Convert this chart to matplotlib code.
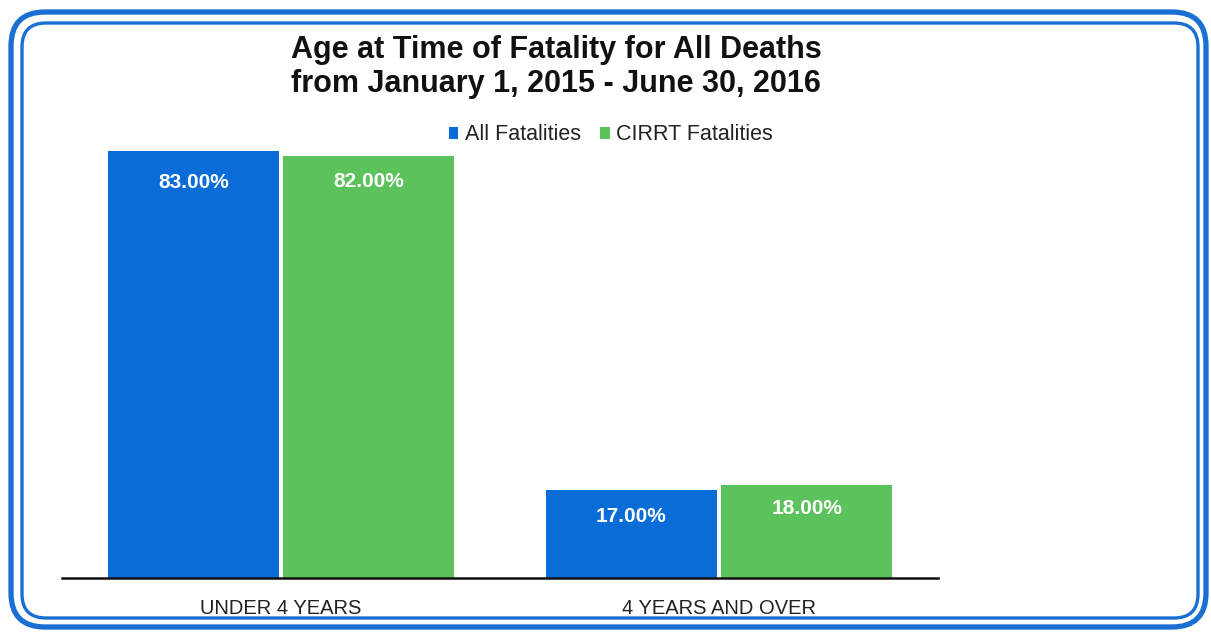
import matplotlib
matplotlib.use("Agg")
import matplotlib.pyplot as plt
from matplotlib.patches import FancyBboxPatch
import numpy as np

categories = ["UNDER 4 YEARS", "4 YEARS AND OVER"]
series_names = ["All Fatalities", "CIRRT Fatalities"]
all_fatalities = [83.0, 17.0]
cirrt_fatalities = [82.0, 18.0]
title_lines = ["Age at Time of Fatality for All Deaths",
               "from January 1, 2015 - June 30, 2016"]

BLUE = "#0A6CD6"
GREEN = "#5CC35C"
FRAME = "#1A6FD2"

plt.rcParams['font.family'] = ['Liberation Sans', 'DejaVu Sans']

W, H = 1211, 632
fig = plt.figure(figsize=(W / 100, H / 100), dpi=100)
fig.patch.set_facecolor("white")

# frame axes in pixel coordinates
bg = fig.add_axes([0, 0, 1, 1])
bg.set_xlim(0, W)
bg.set_ylim(H, 0)
bg.axis("off")
outer = FancyBboxPatch((11, 12), 1206 - 11, 627 - 12,
                       boxstyle="round,pad=0,rounding_size=34",
                       fill=False, edgecolor=FRAME, linewidth=3.8)
inner = FancyBboxPatch((22, 23), 1198 - 22, 618 - 23,
                       boxstyle="round,pad=0,rounding_size=24",
                       fill=False, edgecolor=FRAME, linewidth=2.4)
bg.add_patch(outer)
bg.add_patch(inner)

# main chart axes
left, right, bottom_px, top_px = 62, 938, 578, 145
ax = fig.add_axes([left / W, (H - bottom_px) / H,
                   (right - left) / W, (bottom_px - top_px) / H])
ax.patch.set_alpha(0)
x = np.arange(len(categories))
bw = 0.39
off = 0.2
b1 = ax.bar(x - off, all_fatalities, bw, color=BLUE, label=series_names[0], zorder=2)
b2 = ax.bar(x + off, cirrt_fatalities, bw, color=GREEN, label=series_names[1], zorder=2)

ax.set_xlim(-0.5, 1.5)
ax.set_ylim(0, (bottom_px - top_px) / 5.15)
for s in ["top", "right", "left"]:
    ax.spines[s].set_visible(False)
ax.spines["bottom"].set_linewidth(1.8)
ax.spines["bottom"].set_color("#111111")
ax.set_yticks([])
ax.set_xticks(x)
ax.set_xticklabels(categories, fontsize=14.5, color="#222222")
ax.tick_params(axis="x", length=0, pad=15)

offsets1 = [-32, -26]
offsets2 = [-26, -23]
for i, (r1, r2) in enumerate(zip(b1, b2)):
    ax.annotate(f"{all_fatalities[i]:.2f}%", (r1.get_x() + r1.get_width() / 2, r1.get_height()),
                xytext=(0, offsets1[i]), textcoords="offset pixels",
                ha="center", va="center", color="white", fontsize=15, fontweight="bold")
    ax.annotate(f"{cirrt_fatalities[i]:.2f}%", (r2.get_x() + r2.get_width() / 2, r2.get_height()),
                xytext=(0, offsets2[i]), textcoords="offset pixels",
                ha="center", va="center", color="white", fontsize=15, fontweight="bold")

fig.text(556 / W, 1 - 50 / H, title_lines[0], ha="center", va="center",
         fontsize=22, fontweight="bold", color="#111111")
fig.text(556 / W, 1 - 84 / H, title_lines[1], ha="center", va="center",
         fontsize=22, fontweight="bold", color="#111111")

leg = fig.legend(handles=[b1, b2], loc="center", bbox_to_anchor=(611 / W, 1 - 135 / H),
                 ncol=2, frameon=False, fontsize=15.5, handlelength=0.45, handleheight=0.45,
                 handletextpad=0.3, columnspacing=0.9)
for t in leg.get_texts():
    t.set_color("#222222")

fig.savefig("out.png", dpi=100)
